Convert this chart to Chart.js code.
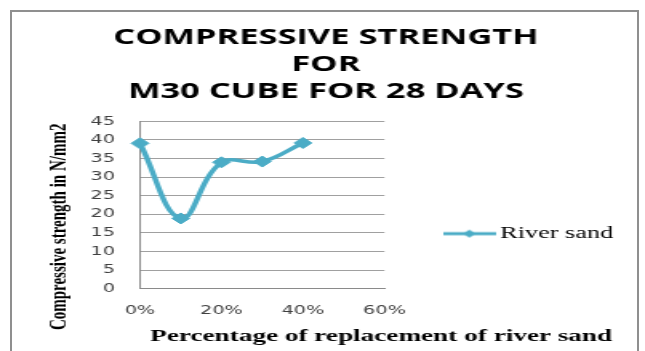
<!DOCTYPE html>
<html>
<head>
<meta charset="utf-8">
<script src="https://cdn.jsdelivr.net/npm/chart.js@4/dist/chart.umd.min.js"></script>
<style>
  html, body { margin: 0; padding: 0; background: #ffffff; width: 645px; height: 351px; overflow: hidden; }
  #frame { position: absolute; left: 10px; top: 10px; width: 629px; height: 400px; box-sizing: border-box; border: 2px solid #8f8f8f; }
  #wrap { position: absolute; left: 0; top: 0; width: 403px; height: 351px; transform: scaleX(1.6005); transform-origin: 0 0; }
</style>
</head>
<body>
<div id="frame"></div>
<div id="wrap"><canvas id="c" width="403" height="351"></canvas></div>
<script>
// ---- data ----
const replacementPct = [0, 10, 20, 30, 40];            // % replacement of river sand
const riverSand = [39.1, 18.9, 34.0, 34.2, 39.2];      // compressive strength, N/mm2
const xTickValues = [0, 20, 40, 60];
const xTickLabels = ['0%', '20%', '40%', '60%'];
const yTickValues = [0, 5, 10, 15, 20, 25, 30, 35, 40, 45];
const seriesName = 'River sand';
const titleLines = ['COMPRESSIVE STRENGTH', 'FOR', 'M30 CUBE FOR 28 DAYS'];
const yTitle = 'Compressive strength in N/mm2';
const xTitle = 'Percentage of replacement of river sand';

const lineColor = '#4BACC6';

// legend glyph: short line with a diamond
const glyph = document.createElement('canvas');
glyph.width = 33; glyph.height = 10;
(function () {
  const g = glyph.getContext('2d');
  g.strokeStyle = lineColor; g.lineWidth = 3;
  g.beginPath(); g.moveTo(0, 5); g.lineTo(33, 5); g.stroke();
  g.fillStyle = lineColor;
  g.beginPath(); g.moveTo(16.5, 1); g.lineTo(20.5, 5); g.lineTo(16.5, 9); g.lineTo(12.5, 5); g.closePath(); g.fill();
})();

const layoutTweaks = {
  id: 'layoutTweaks',
  afterLayout(chart, args, opts) {
    const lg = chart.legend;
    if (lg) { lg.top += opts.legendDy; lg.bottom += opts.legendDy; }
  },
  beforeDraw(chart, args, opts) {
    for (const [id, d] of Object.entries(opts.titleShift || {})) {
      const s = chart.scales[id];
      if (s && !s.$shifted) {
        const orig = s.drawTitle;
        s.drawTitle = function () {
          const c = this.ctx;
          const r = this.right;
          if (d[2]) this.right = this.left + d[2];
          c.save(); c.translate(d[0], d[1]); orig.call(this); c.restore();
          this.right = r;
        };
        s.$shifted = true;
      }
    }
  }
};

const points = replacementPct.map((x, i) => ({ x: x, y: riverSand[i] }));

new Chart(document.getElementById('c'), {
  type: 'line',
  data: {
    datasets: [{
      label: seriesName,
      data: points,
      borderColor: lineColor,
      backgroundColor: lineColor,
      borderWidth: 3.5,
      tension: 0.4,
      pointStyle: 'rectRot',
      pointRadius: 5.5,
      pointBorderWidth: 1,
      pointBackgroundColor: lineColor,
      pointBorderColor: lineColor,
      clip: false
    }]
  },
  plugins: [layoutTweaks],
  options: {
    responsive: false,
    animation: false,
    devicePixelRatio: 1,
    layout: { padding: { left: 19, right: 14.8, top: 0, bottom: 0 } },
    scales: {
      x: {
        type: 'linear',
        min: 0, max: 60,
        afterFit: (s) => { s.height = 62.3; },
        afterBuildTicks: (s) => { s.ticks = xTickValues.map(v => ({ value: v })); },
        ticks: {
          padding: 14.8,
          color: '#404040',
          font: { family: "'DejaVu Sans', sans-serif", size: 12 },
          callback: (v) => xTickLabels[xTickValues.indexOf(v)]
        },
        grid: { display: false, drawTicks: false },
        border: { display: true, color: '#8a8a8a', width: 1 },
        title: {
          display: true, text: xTitle, align: 'start', color: '#000',
          font: { family: "'Liberation Serif', serif", size: 17, weight: 'bold' },
          padding: { top: 0, bottom: 3.8 }
        }
      },
      y: {
        min: 0, max: 45,
        afterFit: (s) => { s.width = 68.47; },
        afterBuildTicks: (s) => { s.ticks = yTickValues.map(v => ({ value: v })); },
        ticks: {
          padding: 15.6,
          color: '#404040',
          font: { family: "'DejaVu Sans', sans-serif", size: 12 }
        },
        grid: { color: '#a0a0a0', lineWidth: 1, drawTicks: false },
        border: { display: true, color: '#8a8a8a', width: 1 },
        title: {
          display: true, text: yTitle, color: '#000',
          font: { family: "'Liberation Serif', serif", size: 15, weight: 'bold' },
          padding: { top: 8.9, bottom: 0 }
        }
      }
    },
    plugins: {
      layoutTweaks: { legendDy: 28.6, titleShift: { x: [6.3, 0, 400], y: [0, 21.8] } },
      title: {
        display: true,
        text: titleLines,
        color: '#000',
        font: { family: "'Open Sans', sans-serif", size: 21.5, weight: 'bold', lineHeight: 1.245 },
        padding: { top: 24.5, bottom: 16.6 }
      },
      legend: {
        display: true,
        position: 'right',
        fullSize: false,
        maxWidth: 148,
        labels: {
          usePointStyle: true,
          pointStyleWidth: 22.4,
          padding: 41.8,
          color: '#000',
          font: { family: "'Liberation Serif', serif", size: 16.4 },
          generateLabels: (chart) => {
            const items = Chart.defaults.plugins.legend.labels.generateLabels(chart);
            items.forEach(it => { it.pointStyle = glyph; });
            return items;
          }
        }
      },
      tooltip: { enabled: false }
    }
  }
});
</script>
</body>
</html>
